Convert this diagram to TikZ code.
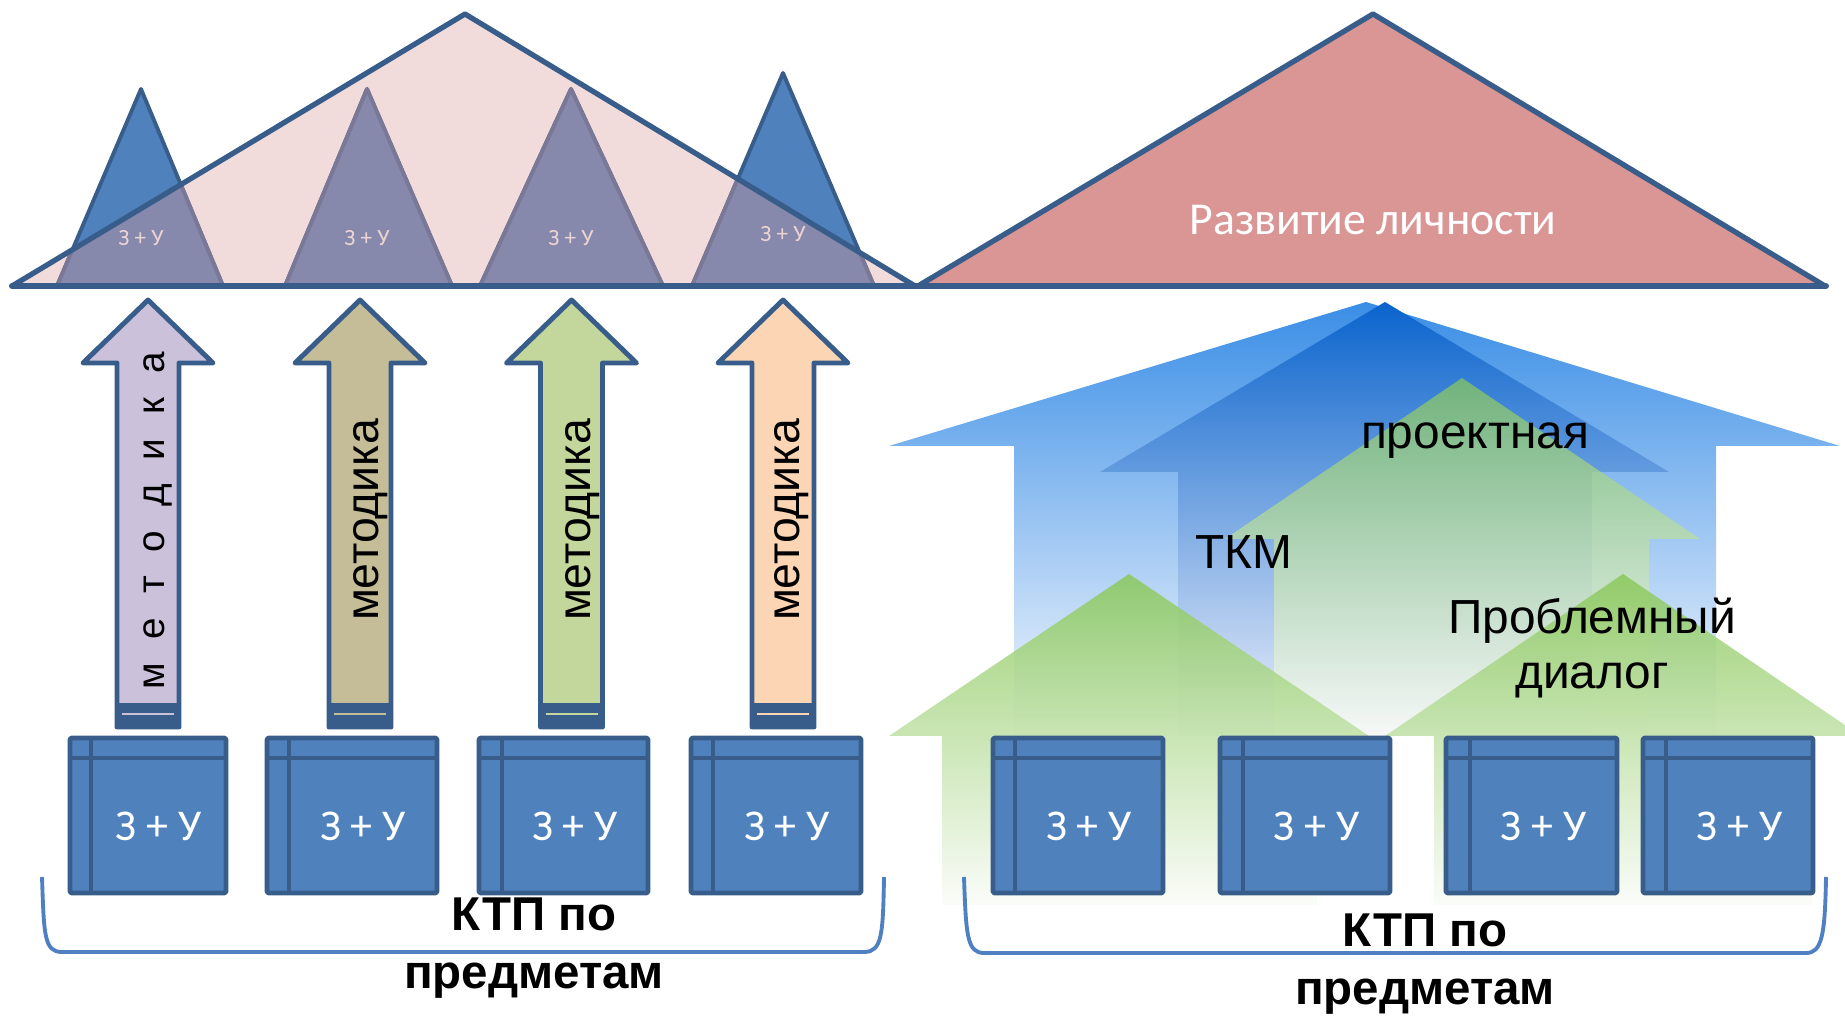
\documentclass[tikz,border=0pt]{standalone}
\usepackage{fontspec}
\setmainfont{Liberation Sans}
\newfontfamily\carl{Carlito}
\definecolor{bdr}{RGB}{56,93,138}
\definecolor{boxblue}{RGB}{79,129,189}
\definecolor{pinkl}{RGB}{242,220,219}
\definecolor{purp}{RGB}{134,137,171}
\definecolor{purpb}{RGB}{122,120,150}
\definecolor{rose}{RGB}{217,150,148}
\definecolor{lav}{RGB}{204,193,218}
\definecolor{khaki}{RGB}{196,189,151}
\definecolor{lgreen}{RGB}{195,214,155}
\definecolor{peach}{RGB}{252,213,181}
\definecolor{brk}{RGB}{79,129,194}
\definecolor{smalltxt}{RGB}{236,212,212}
\definecolor{bbTop}{RGB}{58,142,230}
\definecolor{bbMid}{RGB}{200,222,246}
\definecolor{bbBot}{RGB}{248,250,254}
\definecolor{dbTop}{RGB}{10,100,205}
\definecolor{dbMid}{RGB}{162,172,226}
\definecolor{dbBot}{RGB}{238,240,250}
\definecolor{gTop}{RGB}{138,200,90}
\definecolor{gMid}{RGB}{208,231,190}
\definecolor{gBot}{RGB}{250,252,248}
\begin{document}
\begin{tikzpicture}[x=0.01cm,y=-0.01cm,line join=round,
  bigtri/.style={draw=bdr,line width=1.5pt},
  smalltri/.style={fill=boxblue,draw=bdr,line width=1.1pt},
  smalltrip/.style={fill=purp,draw=purpb,line width=1.1pt},
  smalllbl/.style={inner sep=0pt,text=smalltxt,font=\carl\fontsize{6.6}{8}\selectfont},
  uparrow/.style={draw=bdr,line width=1.4pt},
  boxst/.style={fill=boxblue,draw=bdr,line width=1.4pt,rounded corners=0.6pt},
  boxline/.style={draw=bdr,line width=1.2pt},
  boxlbl/.style={inner sep=0pt,text=white,font=\carl\fontsize{12.5}{14}\selectfont},
  arrlbl/.style={inner sep=0pt,rotate=90,font=\fontsize{13.2}{15}\selectfont},
  rtxt/.style={inner sep=0pt,font=\fontsize{13.6}{15.9}\selectfont,align=center},
  ktp/.style={inner sep=0pt,font=\bfseries\fontsize{13.5}{16.4}\selectfont,align=center},
  bracket/.style={draw=brk,line width=1.1pt}]
\useasboundingbox (0,0) rectangle (1845,1016);

% ---------- right side gradient arrows ----------
\shade[top color=bbTop,middle color=bbMid,bottom color=bbBot]
  (1014,736)--(1014,446)--(889,446)--(1366,302)--(1840,446)--(1716,446)--(1716,736)--cycle;
\shade[top color=dbTop,middle color=dbMid,bottom color=dbBot]
  (1178,736)--(1178,472)--(1100,472)--(1385,302)--(1669,472)--(1592,472)--(1592,736)--cycle;
\shade[top color=gTop,middle color=gMid,bottom color=gBot,fill opacity=0.72]
  (1274,736)--(1274,539)--(1225,539)--(1462,378)--(1700,539)--(1649,539)--(1649,736)--cycle;
\shade[top color=gTop,middle color=gMid,bottom color=gBot,fill opacity=0.85]
  (942,905)--(942,736)--(889,736)--(1129,574)--(1369,736)--(1317,736)--(1317,905)--cycle;
\shade[top color=gTop,middle color=gMid,bottom color=gBot,fill opacity=0.85]
  (1434,905)--(1434,736)--(1385,736)--(1623,574)--(1861,736)--(1812,736)--(1812,905)--cycle;

\node[rtxt] (proj) at (1475,441) {проектная};
\node[rtxt] (tkm) at (1244,552) {ТКМ};
\node[rtxt] (probl) at (1592,648) {Проблемный\\диалог};

% ---------- top triangles ----------
\fill[pinkl] (12,286)--(465,14)--(915,286)--cycle;
\filldraw[smalltri] (57,286)--(141,89)--(223,286)--cycle;
\filldraw[smalltri] (285,286)--(367,89)--(452,286)--cycle;
\filldraw[smalltri] (480,286)--(571,89)--(663,286)--cycle;
\filldraw[smalltri] (692,286)--(783,73)--(874,286)--cycle;
\begin{scope}
  \clip (12,286)--(465,14)--(915,286)--cycle;
  \filldraw[smalltrip] (57,286)--(141,89)--(223,286)--cycle;
  \filldraw[smalltrip] (285,286)--(367,89)--(452,286)--cycle;
  \filldraw[smalltrip] (480,286)--(571,89)--(663,286)--cycle;
  \filldraw[smalltrip] (692,286)--(783,73)--(874,286)--cycle;
\end{scope}
\draw[bigtri] (12,286)--(465,14)--(915,286);
\filldraw[bigtri,fill=rose] (918,286)--(1373,14)--(1825,286)--cycle;
\draw[draw=bdr,line width=1.7pt,line cap=round] (12,286)--(1826,286);

\node[smalllbl] (s1) at (141,238) {З + У};
\node[smalllbl] (s2) at (367,238) {З + У};
\node[smalllbl] (s3) at (571,238) {З + У};
\node[smalllbl] (s4) at (783,234) {З + У};
\node[inner sep=0pt,text=white,font=\carl\fontsize{13}{15}\selectfont] (dev) at (1373,220) {Развитие личности};

% ---------- left up arrows ----------
\foreach \cx/\col in {148/lav,360/khaki,571.5/lgreen,783/peach}{
  \filldraw[uparrow,fill=\col] ({\cx-31},727)--({\cx-31},363)--({\cx-65},363)--(\cx,300)
     --({\cx+65},363)--({\cx+31},363)--({\cx+31},727)--cycle;
  \fill[bdr] ({\cx-31},703) rectangle ({\cx+31},727);
  \draw[\col,line width=0.6pt] ({\cx-26},714)--({\cx+26},714);
}
\node[arrlbl,font=\fontsize{11}{13}\selectfont] (m1) at (158,521)
  {м\hspace{6.8pt}е\hspace{6.8pt}т\hspace{6.8pt}о\hspace{6.8pt}д\hspace{6.8pt}и\hspace{6.8pt}к\hspace{6.8pt}а};
\node[arrlbl] (m2) at (371,520) {методика};
\node[arrlbl] (m3) at (583,520) {методика};
\node[arrlbl] (m4) at (792,520) {методика};

% ---------- boxes ----------
\foreach \a/\b/\c [count=\n] in {70/91/226,267/289/437,479/502/648,691/713/861,
    993/1015/1163,1220/1243/1390,1446/1470/1617,1643/1666/1813}{
  \fill[boxblue] (\a,738) rectangle (\c,893);
  \draw[boxline] (\b,738)--(\b,893) (\a,758)--(\c,758);
  \draw[boxst,fill=none] (\a,738) rectangle (\c,893);
  \node[boxlbl] (zu\n) at ({(\b+\c)/2},826) {З + У};
}

% ---------- brackets ----------
\draw[bracket] (42,877) .. controls (44,935) and (44,952) .. (62,952) -- (864,952)
   .. controls (882,952) and (883,935) .. (884,877);
\draw[bracket] (964,877) .. controls (966,935) and (967,953) .. (984,953) -- (1806,953)
   .. controls (1822,953) and (1825,935) .. (1826,877);

\node[ktp] (ktpL) at (534,948) {КТП по\\предметам};
\node[ktp] (ktpR) at (1425,964) {КТП по\\предметам};
\end{tikzpicture}
\end{document}
